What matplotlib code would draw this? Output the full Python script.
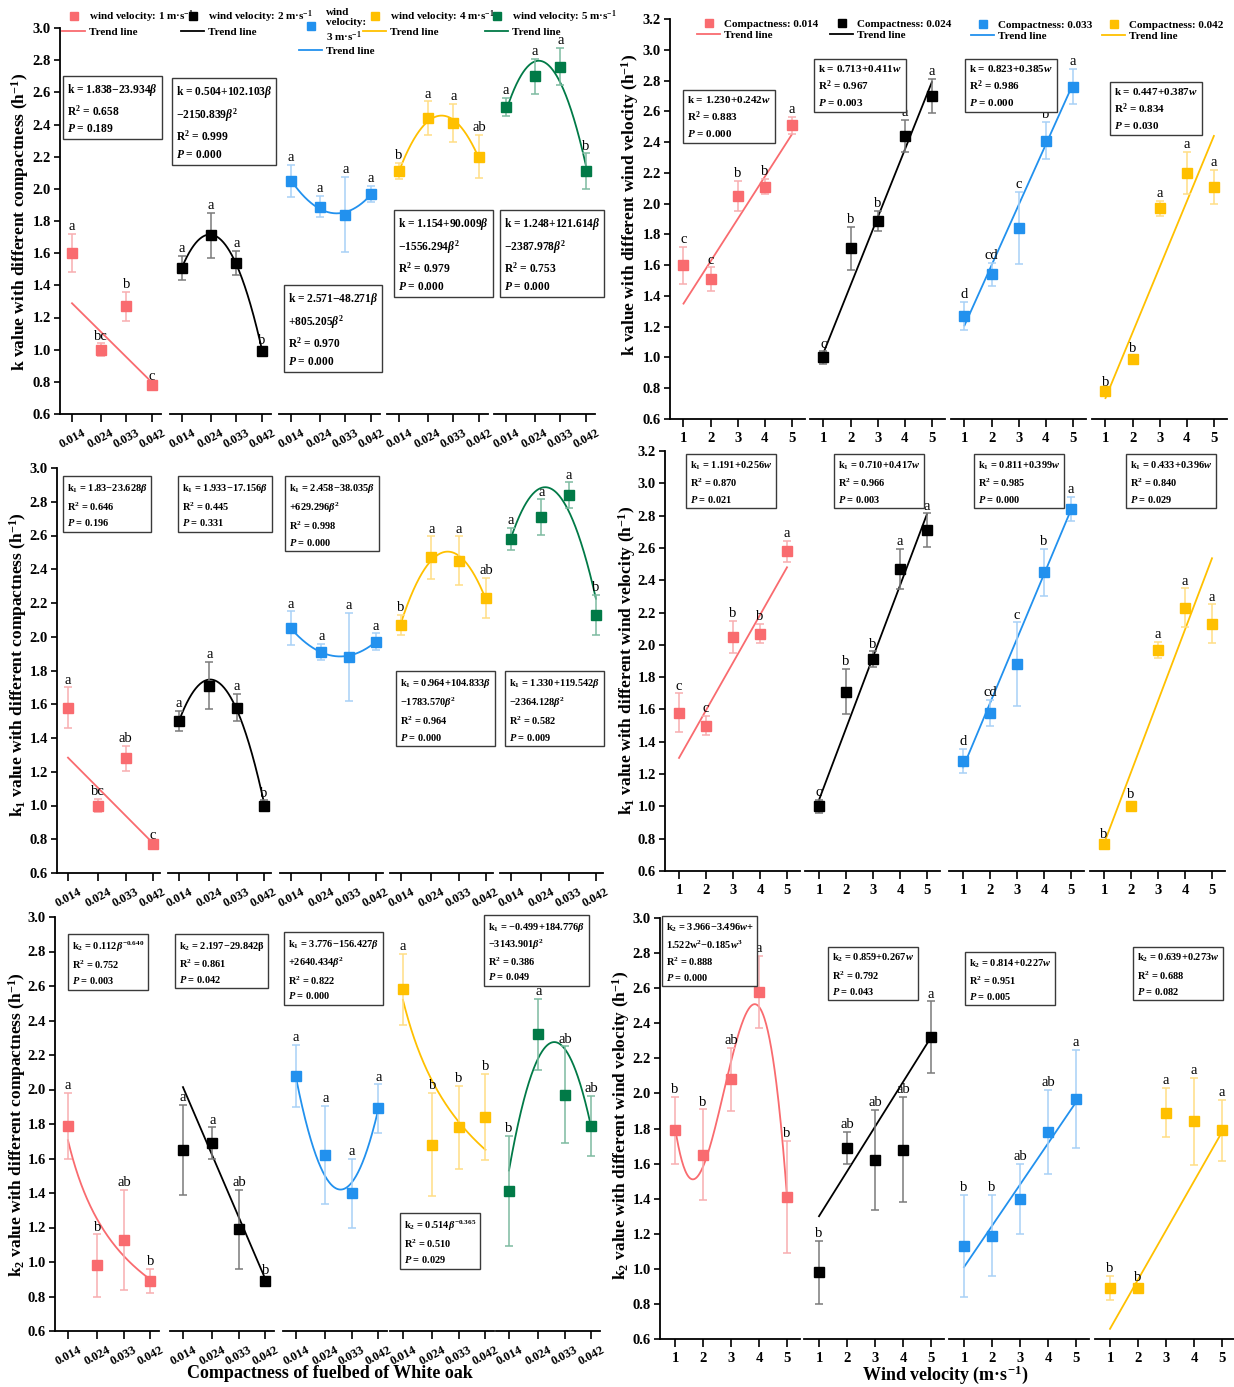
import numpy as np
import matplotlib
matplotlib.use('Agg')
import matplotlib.pyplot as plt
from matplotlib.lines import Line2D

plt.rcParams['font.family'] = ['Liberation Serif', 'DejaVu Serif']
plt.rcParams['font.weight'] = 'bold'
plt.rcParams['mathtext.fontset'] = 'custom'
plt.rcParams['mathtext.rm'] = 'Liberation Serif:bold'
plt.rcParams['mathtext.it'] = 'Liberation Serif:italic:bold'
plt.rcParams['mathtext.bf'] = 'Liberation Serif:bold'

W, H = 1234, 1387

compactness = [0.014, 0.024, 0.033, 0.042]
compact_labels = ['0.014', '0.024', '0.033', '0.042']
wind = [1, 2, 3, 4, 5]

colors = ['#F96B6F', '#000000', '#2291EE', '#FFC000', '#017A47']
err_colors = ['#F8AEB0', '#7A7A7A', '#A8D1F6', '#FFDE85', '#7DBBA1']

# rows = wind velocity 1..5, columns = compactness 0.014..0.042
k_mean = [[1.60, 1.00, 1.27, 0.78],
          [1.51, 1.71, 1.54, 0.99],
          [2.05, 1.89, 1.84, 1.97],
          [2.11, 2.44, 2.41, 2.20],
          [2.51, 2.70, 2.76, 2.11]]
k_err = [[0.12, 0.04, 0.09, 0.01],
         [0.075, 0.14, 0.075, 0.02],
         [0.10, 0.065, 0.235, 0.05],
         [0.05, 0.105, 0.12, 0.135],
         [0.055, 0.11, 0.115, 0.11]]

k1_mean = [[1.58, 1.00, 1.28, 0.77],
           [1.50, 1.71, 1.58, 1.00],
           [2.05, 1.91, 1.88, 1.97],
           [2.07, 2.47, 2.45, 2.23],
           [2.58, 2.71, 2.84, 2.13]]
k1_err = [[0.12, 0.04, 0.075, 0.01],
          [0.06, 0.14, 0.08, 0.03],
          [0.10, 0.05, 0.26, 0.05],
          [0.06, 0.125, 0.145, 0.12],
          [0.065, 0.105, 0.075, 0.12]]

k2_mean = [[1.79, 0.98, 1.13, 0.89],
           [1.65, 1.69, 1.19, 0.89],
           [2.08, 1.62, 1.40, 1.89],
           [2.58, 1.68, 1.78, 1.84],
           [1.41, 2.32, 1.97, 1.79]]
k2_err = [[0.19, 0.18, 0.29, 0.07],
          [0.26, 0.09, 0.23, 0.02],
          [0.18, 0.285, 0.20, 0.14],
          [0.205, 0.30, 0.24, 0.25],
          [0.32, 0.205, 0.28, 0.175]]

# significance letters
k_letters_c = [['a', 'bc', 'b', 'c'], ['a', 'a', 'a', 'b'], ['a', 'a', 'a', 'a'],
               ['b', 'a', 'a', 'ab'], ['a', 'a', 'a', 'b']]
k_letters_w = [['c', 'c', 'b', 'b', 'a'], ['c', 'b', 'b', 'a', 'a'],
               ['d', 'cd', 'c', 'b', 'a'], ['b', 'b', 'a', 'a', 'a']]
k1_letters_c = [['a', 'bc', 'ab', 'c'], ['a', 'a', 'a', 'b'], ['a', 'a', 'a', 'a'],
                ['b', 'a', 'a', 'ab'], ['a', 'a', 'a', 'b']]
k1_letters_w = [['c', 'c', 'b', 'b', 'a'], ['c', 'b', 'b', 'a', 'a'],
                ['d', 'cd', 'c', 'b', 'a'], ['b', 'b', 'a', 'a', 'a']]
k2_letters_c = [['a', 'b', 'ab', 'b'], ['a', 'a', 'ab', 'b'], ['a', 'a', 'a', 'a'],
                ['a', 'b', 'b', 'b'], ['b', 'a', 'ab', 'ab']]
k2_letters_w = [['b', 'b', 'ab', 'a', 'b'], ['b', 'ab', 'ab', 'ab', 'a'],
                ['b', 'b', 'ab', 'ab', 'a'], ['b', 'b', 'a', 'a', 'a']]

# trend lines as drawn: ('poly', coefs) or ('pow', [a, b])
k_trend_c = [('poly', [-17.6, 1.535]),
             ('poly', [-2150.839, 102.103, 0.504]),
             ('poly', [805.205, -48.271, 2.571]),
             ('poly', [-1556.294, 90.009, 1.154]),
             ('poly', [-2387.978, 121.614, 1.248])]
k_trend_w = [('poly', [0.275, 1.075]), ('poly', [0.44, 0.59]),
             ('poly', [0.392, 0.816]), ('poly', [0.426, 0.31])]
k1_trend_c = [('poly', [-18.1, 1.537]),
              ('poly', [-2323, 112.85, 0.376]),
              ('poly', [629.296, -38.035, 2.458]),
              ('poly', [-1783.570, 104.833, 0.964]),
              ('poly', [-2364.128, 119.542, 1.375])]
k1_trend_w = [('poly', [0.295, 1.005]), ('poly', [0.4425, 0.5975]),
              ('poly', [0.399, 0.841]), ('poly', [0.4415, 0.3285])]
k2_trend_c = [('pow', [0.141, -0.584]),
              ('poly', [-39.8, 2.571]),
              ('poly', [2836, -165.28, 3.828]),
              ('pow', [0.487, -0.385]),
              ('poly', [-3143.901, 184.776, -0.44])]
k2_trend_w = [('poly', [-0.185, 1.522, -3.496, 3.966]), ('poly', [0.255, 1.045]),
              ('poly', [0.235, 0.775]), ('poly', [0.2805, 0.3775])]

eq_k_c = ['k = 1.838−23.934$\\beta$\nR$^2$ = 0.658\n$P$ = 0.189',
          'k = 0.504+102.103$\\beta$\n−2150.839$\\beta^2$\nR$^2$ = 0.999\n$P$ = 0.000',
          'k = 2.571−48.271$\\beta$\n+805.205$\\beta^2$\nR$^2$ = 0.970\n$P$ = 0.000',
          'k = 1.154+90.009$\\beta$\n−1556.294$\\beta^2$\nR$^2$ = 0.979\n$P$ = 0.000',
          'k = 1.248+121.614$\\beta$\n−2387.978$\\beta^2$\nR$^2$ = 0.753\n$P$ = 0.000']
eq_k_w = ['k = 1.230+0.242$w$\nR$^2$ = 0.883\n$P$ = 0.000',
          'k = 0.713+0.411$w$\nR$^2$ = 0.967\n$P$ = 0.003',
          'k = 0.823+0.385$w$\nR$^2$ = 0.986\n$P$ = 0.000',
          'k = 0.447+0.387$w$\nR$^2$ = 0.834\n$P$ = 0.030']
eq_k1_c = ['k$_1$ = 1.83−23.628$\\beta$\nR$^2$ = 0.646\n$P$ = 0.196',
           'k$_1$ = 1.933−17.156$\\beta$\nR$^2$ = 0.445\n$P$ = 0.331',
           'k$_1$ = 2.458−38.035$\\beta$\n+629.296$\\beta^2$\nR$^2$ = 0.998\n$P$ = 0.000',
           'k$_1$ = 0.964+104.833$\\beta$\n−1783.570$\\beta^2$\nR$^2$ = 0.964\n$P$ = 0.000',
           'k$_1$ = 1.330+119.542$\\beta$\n−2364.128$\\beta^2$\nR$^2$ = 0.582\n$P$ = 0.009']
eq_k1_w = ['k$_1$ = 1.191+0.256$w$\nR$^2$ = 0.870\n$P$ = 0.021',
           'k$_1$ = 0.710+0.417$w$\nR$^2$ = 0.966\n$P$ = 0.003',
           'k$_1$ = 0.811+0.399$w$\nR$^2$ = 0.985\n$P$ = 0.000',
           'k$_1$ = 0.433+0.396$w$\nR$^2$ = 0.840\n$P$ = 0.029']
eq_k2_c = ['k$_2$ = 0.112$\\beta^{-0.640}$\nR$^2$ = 0.752\n$P$ = 0.003',
           'k$_2$ = 2.197−29.842β\nR$^2$ = 0.861\n$P$ = 0.042',
           'k$_1$ = 3.776−156.427$\\beta$\n+2640.434$\\beta^2$\nR$^2$ = 0.822\n$P$ = 0.000',
           'k$_2$ = 0.514$\\beta^{-0.365}$\nR$^2$ = 0.510\n$P$ = 0.029',
           'k$_1$ = −0.499+184.776$\\beta$\n−3143.901$\\beta^2$\nR$^2$ = 0.386\n$P$ = 0.049']
eq_k2_w = ['k$_2$ = 3.966−3.496$w$+\n1.522w$^2$−0.185$w^3$\nR$^2$ = 0.888\n$P$ = 0.000',
           'k$_2$ = 0.859+0.267$w$\nR$^2$ = 0.792\n$P$ = 0.043',
           'k$_2$ = 0.814+0.227$w$\nR$^2$ = 0.951\n$P$ = 0.005',
           'k$_2$ = 0.639+0.273$w$\nR$^2$ = 0.688\n$P$ = 0.082']

fig = plt.figure(figsize=(W / 100, H / 100), dpi=100)


def fx(x):
    return x / W


def fy(y):
    return 1 - y / H


def trend_values(trend, xs):
    kind, c = trend
    if kind == 'pow':
        return c[0] * xs ** c[1]
    return np.polyval(c, xs)


def draw_panel(starts, width, top, bottom, xlim, ylim, yticks, xvals, xlabels,
               means, errs, letters, trends, group_colors, rotate):
    axes = []
    for g, s in enumerate(starts):
        ax = fig.add_axes([fx(s), fy(bottom), width / W, (bottom - top) / H])
        ax.patch.set_alpha(0)
        ax.set_xlim(xlim)
        ax.set_ylim(ylim)
        for side in ['top', 'right']:
            ax.spines[side].set_visible(False)
        for side in ['left', 'bottom']:
            ax.spines[side].set_linewidth(1.3)
        ax.tick_params(axis='x', direction='out', length=6, width=1.2, pad=3)
        ax.tick_params(axis='y', direction='out', length=4.5, width=1.2, pad=2,
                       labelsize=10.5)
        ax.set_xticks(xvals)
        if rotate:
            ax.set_xticklabels(xlabels, rotation=28, fontsize=9, fontweight='bold')
        else:
            ax.set_xticklabels(xlabels, fontsize=10.5, fontweight='bold')
        if g == 0:
            ax.set_yticks(yticks)
            ax.set_yticklabels(['%.1f' % t for t in yticks], fontweight='bold')
        else:
            ax.spines['left'].set_visible(False)
            ax.tick_params(axis='y', left=False, labelleft=False)

        c = group_colors[g]
        xs = np.linspace(xvals[0], xvals[-1], 200)
        ax.plot(xs, trend_values(trends[g], xs), color=c, lw=1.3, zorder=2)
        ax.errorbar(xvals, means[g], yerr=errs[g], fmt='s', color=c, ms=6.5,
                    ecolor=err_colors[colors.index(c)], elinewidth=1.1,
                    capsize=3, capthick=1.1, zorder=3)
        for x, m, e, lab in zip(xvals, means[g], errs[g], letters[g]):
            ax.text(x, m + e + 0.004, lab, ha='center', va='bottom',
                    fontsize=10.5, fontweight='normal')
        axes.append(ax)
    return axes


def by_wind(matrix):
    return [[row[j] for row in matrix] for j in range(4)]


def add_boxes(spec, texts, size, spacing):
    for (x, y), t in zip(spec, texts):
        fig.text(fx(x), fy(y), t, ha='left', va='top', fontsize=size,
                 linespacing=spacing,
                 bbox=dict(boxstyle='square,pad=0.35', fc='white', ec='#3A3A3A', lw=1.0))


yt_30 = [round(v, 1) for v in np.arange(0.6, 3.01, 0.2)]
yt_32 = [round(v, 1) for v in np.arange(0.6, 3.21, 0.2)]
wind_labels = [str(w) for w in wind]

# ---- panel A: k vs compactness
axA = draw_panel([60, 170, 279, 387, 494], 101, 28, 414, (0.0098, 0.04515), (0.6, 3.0), yt_30,
                 compactness, compact_labels, k_mean, k_err, k_letters_c, k_trend_c, colors, True)
# ---- panel B: k vs wind velocity
axB = draw_panel([670, 810, 951, 1092], 135, 19, 419, (0.502, 5.484), (0.6, 3.2), yt_32,
                 wind, wind_labels, by_wind(k_mean), by_wind(k_err), k_letters_w, k_trend_w,
                 colors[:4], False)
# ---- panel C: k1 vs compactness
axC = draw_panel([57, 168, 280, 390, 500], 103, 468, 873, (0.01038, 0.04433), (0.6, 3.0), yt_30,
                 compactness, compact_labels, k1_mean, k1_err, k1_letters_c, k1_trend_c, colors, True)
# ---- panel D: k1 vs wind velocity
axD = draw_panel([665, 805, 949, 1090], 135, 451, 871, (0.481, 5.481), (0.6, 3.2), yt_32,
                 wind, wind_labels, by_wind(k1_mean), by_wind(k1_err), k1_letters_w, k1_trend_w,
                 colors[:4], False)
# ---- panel E: k2 vs compactness
axE = draw_panel([55, 170, 283, 390, 496], 104, 917, 1331, (0.0096, 0.0449), (0.6, 3.0), yt_30,
                 compactness, compact_labels, k2_mean, k2_err, k2_letters_c, k2_trend_c, colors, True)
# ---- panel F: k2 vs wind velocity
axF = draw_panel([660, 804, 949, 1095], 140, 918, 1339, (0.464, 5.464), (0.6, 3.0), yt_30,
                 wind, wind_labels, by_wind(k2_mean), by_wind(k2_err), k2_letters_w, k2_trend_w,
                 colors[:4], False)

# equation boxes
add_boxes([(67, 82), (176, 84), (288, 291), (398, 216), (504, 216)], eq_k_c, 8.3, 1.5)
add_boxes([(687, 94), (818, 63), (969, 63), (1114, 86)], eq_k_w, 8, 1.4)
add_boxes([(67, 482), (182, 482), (289, 482), (400, 677), (509, 677)], eq_k1_c, 7.5, 1.5)
add_boxes([(690, 459), (838, 459), (978, 459), (1130, 459)], eq_k1_w, 7.5, 1.5)
add_boxes([(72, 940), (179, 940), (288, 938), (404, 1219)], eq_k2_c[:4], 7.5, 1.42)
add_boxes([(488, 921)], eq_k2_c[4:], 7.5, 1.35)
add_boxes([(666, 921), (832, 952), (969, 957), (1137, 952)], eq_k2_w, 7.5, 1.45)

# legends
legend_wind_labels = ['wind velocity: 1 m·s$^{-1}$', 'wind velocity: 2 m·s$^{-1}$',
                      'wind\nvelocity:\n3 m·s$^{-1}$', 'wind velocity: 4 m·s$^{-1}$',
                      'wind velocity: 5 m·s$^{-1}$']
for ax, c, lab, (x, y) in zip(axA, colors, legend_wind_labels,
                               [(62, 8), (181, 8), (299, 8), (363, 8), (485, 8)]):
    handles = [Line2D([], [], ls='none', marker='s', color=c, ms=6),
               Line2D([], [], color=c, lw=1.3)]
    ax.legend(handles, [lab, 'Trend line'], loc='upper left', bbox_to_anchor=(fx(x), fy(y)),
              bbox_transform=fig.transFigure, frameon=False,
              prop={'size': 8, 'weight': 'bold'}, handlelength=2.1, handletextpad=0.3,
              borderpad=0, borderaxespad=0, labelspacing=0.2)

for ax, c, lab, (x, y) in zip(axB, colors, compact_labels,
                               [(697, 19), (830, 19), (971, 20), (1102, 20)]):
    handles = [Line2D([], [], ls='none', marker='s', color=c, ms=6),
               Line2D([], [], color=c, lw=1.3)]
    ax.legend(handles, ['Compactness: ' + lab, 'Trend line'], loc='upper left',
              bbox_to_anchor=(fx(x), fy(y)), bbox_transform=fig.transFigure, frameon=False,
              prop={'size': 8, 'weight': 'bold'}, handlelength=2.1, handletextpad=0.3,
              borderpad=0, borderaxespad=0, labelspacing=0.15)

# axis titles
ylabels = [(20, 222, 'k value with different compactness (h$^{-1}$)'),
           (630, 205, 'k value with different wind velocity (h$^{-1}$)'),
           (18, 665, 'k$_1$ value with different compactness (h$^{-1}$)'),
           (627, 660, 'k$_1$ value with different wind velocity (h$^{-1}$)'),
           (17, 1125, 'k$_2$ value with different compactness (h$^{-1}$)'),
           (621, 1125, 'k$_2$ value with different wind velocity (h$^{-1}$)')]
for x, y, t in ylabels:
    fig.text(fx(x), fy(y), t, rotation=90, ha='center', va='center', fontsize=12.5)

fig.text(fx(330), fy(1374), 'Compactness of fuelbed of White oak', ha='center', va='center',
         fontsize=13)
fig.text(fx(945), fy(1375), 'Wind velocity (m·s$^{-1}$)', ha='center', va='center', fontsize=13)

fig.savefig('out.png', dpi=100)
plt.close(fig)
